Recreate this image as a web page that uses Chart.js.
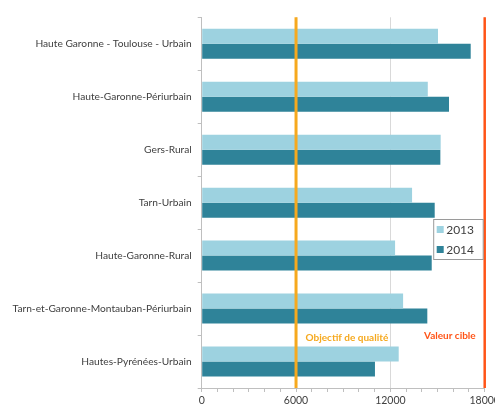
<!DOCTYPE html>
<html>
<head>
<meta charset="utf-8">
<script src="https://cdn.jsdelivr.net/npm/chart.js@4.4.0/dist/chart.umd.min.js"></script>
<style>
html,body{margin:0;padding:0;background:#fff;overflow:hidden;}
#wrap{position:relative;width:512px;height:406px;}
</style>
</head>
<body>
<div id="wrap"><canvas id="c"></canvas></div>
<script>
const categories = [
  'Haute Garonne - Toulouse - Urbain',
  'Haute-Garonne-Périurbain',
  'Gers-Rural',
  'Tarn-Urbain',
  'Haute-Garonne-Rural',
  'Tarn-et-Garonne-Montauban-Périurbain',
  'Hautes-Pyrénées-Urbain'
];
const seriesNames = ['2013', '2014'];
const values2013 = [15030, 14380, 15200, 13380, 12300, 12810, 12530];
const values2014 = [17110, 15730, 15180, 14820, 14630, 14350, 11020];
const xTickLabels = [0, 6000, 12000, 18000];
const objectifQualite = 6000;
const valeurCible = 18000;
const refLines = [
  {value: objectifQualite, label: 'Objectif de qualité', color: '#F6A91E', width: 3, side: 'right'},
  {value: valeurCible, label: 'Valeur cible', color: '#FF5417', width: 2.5, side: 'left'}
];

const FONT = 'Lato, "Open Sans", sans-serif';

const refLinePlugin = {
  id: 'refLines',
  afterDatasetsDraw(chart) {
    const {ctx, chartArea, scales} = chart;
    ctx.save();
    refLines.forEach(r => {
      const x = scales.x.getPixelForValue(r.value);
      ctx.strokeStyle = r.color;
      ctx.lineWidth = r.width;
      ctx.beginPath();
      ctx.moveTo(x, chartArea.top);
      ctx.lineTo(x, chartArea.bottom);
      ctx.stroke();
      ctx.fillStyle = r.color;
      ctx.font = 'bold 10px ' + FONT;
      ctx.textBaseline = 'middle';
      if (r.side === 'right') {
        ctx.textAlign = 'left';
        ctx.fillText(r.label, x + 9.5, chartArea.bottom - 50);
      } else {
        ctx.textAlign = 'right';
        ctx.fillText(r.label, x - 9, chartArea.bottom - 52);
      }
    });
    ctx.restore();
  }
};

const legendPlugin = {
  id: 'boxLegend',
  afterDraw(chart) {
    const {ctx, chartArea} = chart;
    const bx = chartArea.right - 51.5, by = chartArea.top + 201.7, bw = 49.5, bh = 40;
    ctx.save();
    ctx.fillStyle = '#fff';
    ctx.fillRect(bx, by, bw, bh);
    ctx.strokeStyle = '#9a9a9a';
    ctx.lineWidth = 1;
    ctx.strokeRect(bx + 0.5, by + 0.5, bw, bh);
    chart.data.datasets.forEach((ds, i) => {
      const cy = by + 10.5 + i * 20;
      ctx.fillStyle = ds.backgroundColor;
      ctx.fillRect(bx + 3.5, cy - 3.5, 7, 7);
      ctx.fillStyle = '#404040';
      ctx.font = '12px ' + FONT;
      ctx.textAlign = 'left';
      ctx.textBaseline = 'middle';
      ctx.fillText(ds.label, bx + 13, cy + 0.5);
    });
    ctx.restore();
  }
};

new Chart(document.getElementById('c'), {
  type: 'bar',
  data: {
    labels: categories,
    datasets: [
      {label: seriesNames[0], data: values2013, backgroundColor: '#9DD2E0', borderWidth: 0},
      {label: seriesNames[1], data: values2014, backgroundColor: '#2F8399', borderWidth: 0}
    ]
  },
  options: {
    indexAxis: 'y',
    responsive: true,
    maintainAspectRatio: false,
    animation: false,
    devicePixelRatio: 1,
    layout: {padding: {top: 17.3, right: 27.3, left: 0, bottom: 0}},
    datasets: {bar: {categoryPercentage: 0.566, barPercentage: 1.0}},
    plugins: {legend: {display: false}, tooltip: {enabled: false}},
    scales: {
      x: {
        type: 'linear',
        min: xTickLabels[0],
        max: xTickLabels[xTickLabels.length - 1],
        afterBuildTicks(scale) {
          const t = [];
          for (let v = scale.min; v <= scale.max; v += 1000) t.push({value: v});
          scale.ticks = t;
        },
        ticks: {
          autoSkip: false,
          maxRotation: 0,
          padding: 2,
          color: '#404040',
          font: {family: FONT, size: 10.5},
          callback: (v) => xTickLabels.includes(v) ? String(v) : ''
        },
        grid: {
          drawOnChartArea: true,
          color: (c) => (c.tick && xTickLabels.includes(c.tick.value) && c.tick.value !== 0) ? '#D9D9D9' : 'rgba(0,0,0,0)',
          tickColor: '#BFBFBF',
          tickLength: 4,
          lineWidth: 1
        },
        border: {display: true, color: '#BFBFBF', width: 1},
        afterFit(s) { s.height = 18; }
      },
      y: {
        type: 'category',
        offset: true,
        ticks: {
          padding: 6,
          color: '#404040',
          font: {family: FONT, size: 10.2}
        },
        grid: {
          offset: true,
          drawOnChartArea: false,
          tickColor: '#BFBFBF',
          tickLength: 4
        },
        border: {display: true, color: '#BFBFBF', width: 1},
        afterFit(s) { s.width = 201.7; }
      }
    }
  },
  plugins: [refLinePlugin, legendPlugin]
});
</script>
</body>
</html>
